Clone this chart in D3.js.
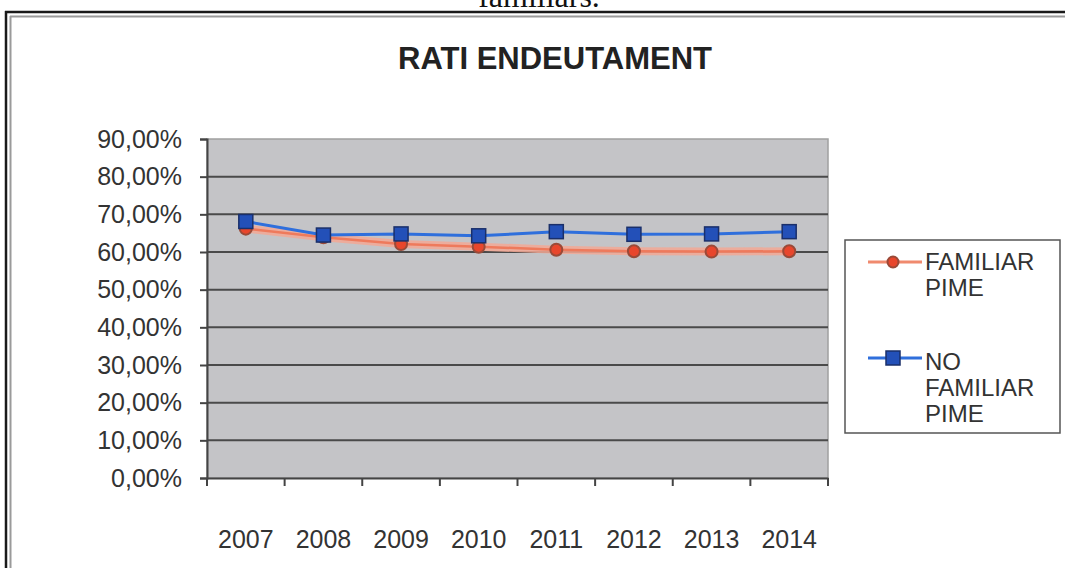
<!DOCTYPE html>
<html><head><meta charset="utf-8">
<script src="https://cdn.jsdelivr.net/npm/d3@7"></script>
<style>body{margin:0;background:#fff;overflow:hidden}svg{display:block}</style>
</head><body>
<script>
const years = ["2007","2008","2009","2010","2011","2012","2013","2014"];
const familiar = [0.662,0.639,0.621,0.614,0.606,0.602,0.601,0.602];
const noFamiliar = [0.681,0.645,0.648,0.643,0.654,0.647,0.648,0.654];
const yTicks = [0,0.1,0.2,0.3,0.4,0.5,0.6,0.7,0.8,0.9];
const seriesNames = [["FAMILIAR","PIME"],["NO","FAMILIAR","PIME"]];
const title = "RATI ENDEUTAMENT";
const caption = "familiars.";

const W=1065,H=568;
const svg=d3.select("body").append("svg").attr("width",W).attr("height",H);

// caption (cut at the top edge, as in the reference)
svg.append("text").attr("x",539).attr("y",7).attr("text-anchor","middle")
  .attr("font-family","Liberation Serif").attr("font-size",32).attr("fill","#111").text(caption);

// frame
svg.append("line").attr("x1",5).attr("x2",W).attr("y1",12).attr("y2",12).attr("stroke","#1a1a1a").attr("stroke-width",2.5);
svg.append("line").attr("x1",6).attr("x2",6).attr("y1",11).attr("y2",H).attr("stroke","#1a1a1a").attr("stroke-width",2.5);
svg.append("line").attr("x1",10).attr("x2",W).attr("y1",16.5).attr("y2",16.5).attr("stroke","#9a9a9a").attr("stroke-width",2);
svg.append("line").attr("x1",10.5).attr("x2",10.5).attr("y1",16).attr("y2",H).attr("stroke","#9a9a9a").attr("stroke-width",2);

// title
svg.append("text").attr("x",555).attr("y",69).attr("text-anchor","middle")
  .attr("font-family","Liberation Sans, Arial").attr("font-weight","bold").attr("font-size",31)
  .attr("fill","#222").text(title);

const L=207,R=828,T=139,B=478;
const x=d3.scaleBand().domain(years).range([L,R]);
const y=d3.scaleLinear().domain([0,0.9]).range([B,T]);

svg.append("rect").attr("x",L).attr("y",T).attr("width",R-L).attr("height",B-T)
  .attr("fill","#c4c4c7").attr("stroke","#a0a0a0").attr("stroke-width",1.5);

// gridlines
svg.append("g").selectAll("line").data(yTicks.filter(d=>d>0&&d<0.9)).join("line")
  .attr("x1",L).attr("x2",R).attr("y1",d=>y(d)).attr("y2",d=>y(d))
  .attr("stroke","#4a4a4a").attr("stroke-width",2);

// y axis
const fmt=d=>d3.format(".2f")(d*100).replace(".",",")+"%";
const ya=svg.append("g").attr("transform",`translate(${L},0)`)
  .call(d3.axisLeft(y).tickValues(yTicks).tickFormat(fmt).tickSize(7).tickPadding(18));
ya.select(".domain").attr("stroke","#444").attr("stroke-width",2);
ya.selectAll(".tick line").attr("stroke","#444").attr("stroke-width",2);
ya.selectAll("text").attr("font-family","Liberation Sans, Arial").attr("font-size",25).attr("fill","#333");

// x axis
const xa=svg.append("g").attr("transform",`translate(0,${B})`)
  .call(d3.axisBottom(x).tickSize(0).tickPadding(52));
xa.select(".domain").attr("stroke","#444").attr("stroke-width",2);
xa.selectAll("text").attr("font-family","Liberation Sans, Arial").attr("font-size",25).attr("fill","#333");
svg.append("g").selectAll("line").data(years.concat(["end"])).join("line")
  .attr("x1",(d,i)=>L+i*x.bandwidth()).attr("x2",(d,i)=>L+i*x.bandwidth())
  .attr("y1",B).attr("y2",B+8).attr("stroke","#444").attr("stroke-width",2);

const cx=d=>x(d)+x.bandwidth()/2;
const line=d3.line().x((d,i)=>cx(years[i])).y(d=>y(d));

// familiar series
svg.append("path").datum(familiar).attr("d",line).attr("fill","none")
  .attr("stroke","#f3a894").attr("stroke-width",8).attr("opacity",0.85);
svg.append("path").datum(familiar).attr("d",line).attr("fill","none")
  .attr("stroke","#ee7a5c").attr("stroke-width",2.5);
// no familiar series
svg.append("path").datum(noFamiliar).attr("d",line).attr("fill","none")
  .attr("stroke","#2f6fdc").attr("stroke-width",3);

svg.append("g").selectAll("circle").data(familiar).join("circle")
  .attr("cx",(d,i)=>cx(years[i])).attr("cy",d=>y(d)).attr("r",6)
  .attr("fill","#e8462c").attr("stroke","#9a4a38").attr("stroke-width",2);
svg.append("g").selectAll("rect").data(noFamiliar).join("rect")
  .attr("x",(d,i)=>cx(years[i])-7).attr("y",d=>y(d)-7).attr("width",14).attr("height",14)
  .attr("fill","#2350b8").attr("stroke","#1a2f6a").attr("stroke-width",1.5);

// legend
const lg=svg.append("g");
lg.append("rect").attr("x",845).attr("y",240).attr("width",215).attr("height",193)
  .attr("fill","#fff").attr("stroke","#555").attr("stroke-width",1.5);
lg.append("line").attr("x1",868).attr("x2",922).attr("y1",262).attr("y2",262).attr("stroke","#f08a6e").attr("stroke-width",3);
lg.append("circle").attr("cx",893).attr("cy",262).attr("r",5.5).attr("fill","#e8462c").attr("stroke","#9a4a38").attr("stroke-width",2);
lg.append("line").attr("x1",868).attr("x2",922).attr("y1",358).attr("y2",358).attr("stroke","#2f6fdc").attr("stroke-width",3);
lg.append("rect").attr("x",886).attr("y",351).attr("width",14).attr("height",14).attr("fill","#2350b8").attr("stroke","#1a2f6a").attr("stroke-width",1.5);
const baseY=[270,370];
seriesNames.forEach((lines,si)=>{
  lines.forEach((t,li)=>{
    lg.append("text").attr("x",925).attr("y",baseY[si]+li*26)
      .attr("font-family","Liberation Sans, Arial").attr("font-size",24).attr("fill","#333").text(t);
  });
});
</script>
</body></html>
